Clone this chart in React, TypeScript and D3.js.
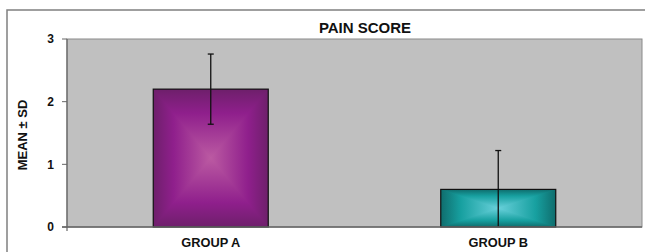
import React from "react";
import * as d3 from "d3";

const categories = ["GROUP A", "GROUP B"];
const means = [2.2, 0.6];
const sds = [0.56, 0.62];
const yTicks = [0, 1, 2, 3];
const title = "PAIN SCORE";
const yLabel = "MEAN ± SD";

const palettes = [
  { edge: "#6e1f6b", mid: "#8f1f8c", center: "#bb5aa2" },
  { edge: "#0f6d6d", mid: "#17a0a0", center: "#68d0da" },
];

const W = 645;
const H = 252;
const plot = { left: 67, right: 642, top: 39, bottom: 227 };

export default function App() {
  const x = d3
    .scaleBand<string>()
    .domain(categories)
    .range([plot.left, plot.right])
    .paddingInner(0.6)
    .paddingOuter(0.3);
  const y = d3.scaleLinear().domain([0, 3]).range([plot.bottom, plot.top]);
  const font = "'Liberation Sans', Arial, sans-serif";

  return (
    <svg
      width={W}
      height={H}
      style={{ position: "absolute", left: 0, top: 0, display: "block" }}
    >
      <defs>
        {palettes.map((p, i) =>
          ["t", "b", "h"].map((side) => {
            const c = {
              t: { x1: 0, y1: 0, x2: 0, y2: 1 },
              b: { x1: 0, y1: 1, x2: 0, y2: 0 },
              h: { x1: 0, y1: 0, x2: 1, y2: 0 },
            }[side as "t"];
            const stops =
              side === "h"
                ? [
                    [0, p.edge],
                    [0.175, p.mid],
                    [0.5, p.center],
                    [0.825, p.mid],
                    [1, p.edge],
                  ]
                : [
                    [0, p.edge],
                    [0.35, p.mid],
                    [1, p.center],
                  ];
            return (
              <linearGradient key={`g${i}${side}`} id={`g${i}${side}`} {...c}>
                {stops.map(([o, col]) => (
                  <stop key={String(o)} offset={String(o)} stopColor={String(col)} />
                ))}
              </linearGradient>
            );
          })
        )}
      </defs>
      <rect x={0} y={0} width={W} height={H} fill="#fff" />
      <rect x={7} y={10} width={W + 10} height={H + 10} fill="#fff" stroke="#808080" strokeWidth={1.5} />
      <rect
        x={plot.left}
        y={plot.top}
        width={plot.right - plot.left}
        height={plot.bottom - plot.top}
        fill="#c0c0c0"
        stroke="#8a8a8a"
        strokeWidth={1}
      />
      <text x={365} y={32.5} textAnchor="middle" fontFamily={font} fontWeight="bold" fontSize={15} fill="#111">
        {title}
      </text>
      <text
        transform={`translate(27,135) rotate(-90)`}
        textAnchor="middle"
        fontFamily={font}
        fontWeight="bold"
        fontSize={13}
        fill="#111"
      >
        {yLabel}
      </text>
      {yTicks.map((t) => (
        <g key={t}>
          <line x1={plot.left - 5} x2={plot.left} y1={y(t)} y2={y(t)} stroke="#666" strokeWidth={1} />
          <text x={54} y={y(t) + 4.3} textAnchor="end" fontFamily={font} fontWeight="bold" fontSize={12} fill="#111">
            {t}
          </text>
        </g>
      ))}
      {categories.map((c, i) => {
        const x0 = x(c)!;
        const bw = x.bandwidth();
        const x1 = x0 + bw;
        const y0 = y(means[i]);
        const y1 = y(0);
        const cx = x0 + bw / 2;
        const cy = (y0 + y1) / 2;
        const hi = y(means[i] + sds[i]);
        const loVal = means[i] - sds[i];
        const lo = y(Math.max(0, loVal));
        return (
          <g key={c}>
            <rect x={x0} y={y0} width={bw} height={y1 - y0} fill={`url(#g${i}h)`} />
            <polygon points={`${x0},${y0} ${x1},${y0} ${cx},${cy}`} fill={`url(#g${i}t)`} />
            <polygon points={`${x0},${y1} ${x1},${y1} ${cx},${cy}`} fill={`url(#g${i}b)`} />
            <rect x={x0} y={y0} width={bw} height={y1 - y0} fill="none" stroke="#111" strokeWidth={1.2} />
            <line x1={cx} x2={cx} y1={hi} y2={lo} stroke="#111" strokeWidth={1.3} />
            <line x1={cx - 3} x2={cx + 3} y1={hi} y2={hi} stroke="#111" strokeWidth={1.3} />
            {loVal > 0 && <line x1={cx - 3} x2={cx + 3} y1={lo} y2={lo} stroke="#111" strokeWidth={1.3} />}
            <text x={cx} y={246.7} textAnchor="middle" fontFamily={font} fontWeight="bold" fontSize={12.8} fill="#111">
              {c}
            </text>
          </g>
        );
      })}
      <line x1={plot.left} x2={plot.left} y1={plot.top} y2={plot.bottom + 4} stroke="#666" strokeWidth={1.2} />
      <line x1={plot.left - 5} x2={plot.right} y1={plot.bottom} y2={plot.bottom} stroke="#666" strokeWidth={1.5} />
    </svg>
  );
}
